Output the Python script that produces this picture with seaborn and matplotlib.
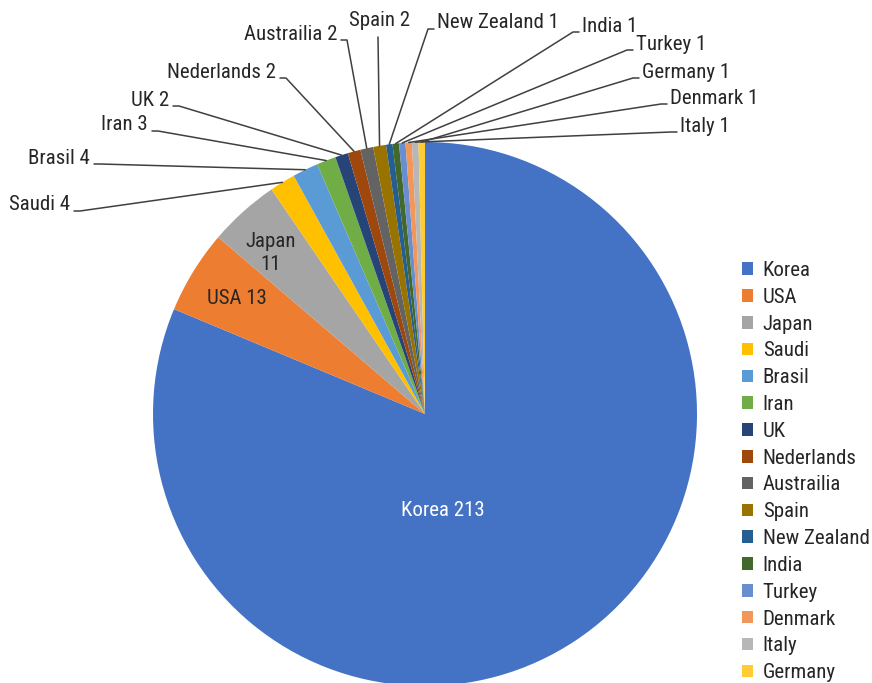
import numpy as np
import matplotlib
matplotlib.use("Agg")
import matplotlib.pyplot as plt
import seaborn as sns

countries = ["Korea", "USA", "Japan", "Saudi", "Brasil", "Iran", "UK", "Nederlands",
             "Austrailia", "Spain", "New Zealand", "India", "Turkey", "Denmark",
             "Italy", "Germany"]
counts = [213, 13, 11, 4, 4, 3, 2, 2, 2, 2, 1, 1, 1, 1, 1, 1]
colors = ["#4472C4", "#ED7D31", "#A5A5A5", "#FFC000", "#5B9BD5", "#70AD47",
          "#264478", "#9E480E", "#636363", "#997300", "#255E91", "#43682B",
          "#698ED0", "#F1975A", "#B7B7B7", "#FFCD33"]

# outside labels: (country, text x, text y, side) in pixel coords from top-left
outside_labels = [
    ("Saudi", 70, 205, "left"),
    ("Brasil", 90, 158, "left"),
    ("Iran", 148, 125, "left"),
    ("UK", 169, 100, "left"),
    ("Nederlands", 276, 72, "left"),
    ("Austrailia", 337, 34, "left"),
    ("Spain", 380, 20, "center"),
    ("New Zealand", 437, 23, "right"),
    ("India", 582, 26, "right"),
    ("Turkey", 636, 44, "right"),
    ("Germany", 642, 72, "right"),
    ("Denmark", 670, 98, "right"),
    ("Italy", 680, 126, "right"),
]

W, H = 872, 683
sns.set_theme(style="white")
plt.rcParams["font.family"] = ["Roboto Condensed", "Roboto", "DejaVu Sans"]

fig = plt.figure(figsize=(W / 100, H / 100), dpi=100)
ax = fig.add_axes([0, 0, 1, 1])

cx, cy, r = 425, H - 414, 272
wedges, _ = ax.pie(counts, colors=sns.color_palette(colors), startangle=90,
                   counterclock=False, center=(cx, cy), radius=r,
                   wedgeprops=dict(linewidth=0), frame=True)
ax.set_xlim(0, W)
ax.set_ylim(0, H)
ax.set_aspect("equal")
ax.axis("off")

fs = 15
txt = "#262626"
ax.text(443, H - 510, "Korea 213", color="white", fontsize=fs, ha="center", va="center")
ax.text(237, H - 298, "USA 13", color=txt, fontsize=fs, ha="center", va="center")
ax.text(271, H - 253, "Japan\n11", color=txt, fontsize=fs, ha="center", va="center",
        linespacing=1.3)

idx = {c: i for i, c in enumerate(countries)}
for name, tx, ty, side in outside_labels:
    w = wedges[idx[name]]
    mid = np.deg2rad((w.theta1 + w.theta2) / 2)
    px, py = cx + r * np.cos(mid), cy + r * np.sin(mid)
    ty_d = H - ty
    label = f"{name} {counts[idx[name]]}"
    if side == "left":
        ax.text(tx, ty_d, label, fontsize=fs, ha="right", va="center", color=txt)
        ex, ey = tx + 4, ty_d - 6
        ax.plot([px, ex + 6, ex], [py, ey, ey], color="#404040", lw=1.1)
    elif side == "right":
        ax.text(tx, ty_d, label, fontsize=fs, ha="left", va="center", color=txt)
        ex, ey = tx - 3, ty_d - 6
        ax.plot([px, ex - 6, ex], [py, ey, ey], color="#404040", lw=1.1)
    else:
        ax.text(tx, ty_d, label, fontsize=fs, ha="center", va="center", color=txt)
        ax.plot([px, tx - 2], [py, ty_d - 17], color="#404040", lw=1.1)

fig.legend(wedges, countries, loc="upper left", bbox_to_anchor=(742 / W, 1 - 261 / H),
           frameon=False, fontsize=fs, handlelength=0.55, handleheight=0.55,
           handletextpad=0.45, labelspacing=0.375, borderaxespad=0, borderpad=0,
           labelcolor=txt)

fig.savefig("out.png", dpi=100)
